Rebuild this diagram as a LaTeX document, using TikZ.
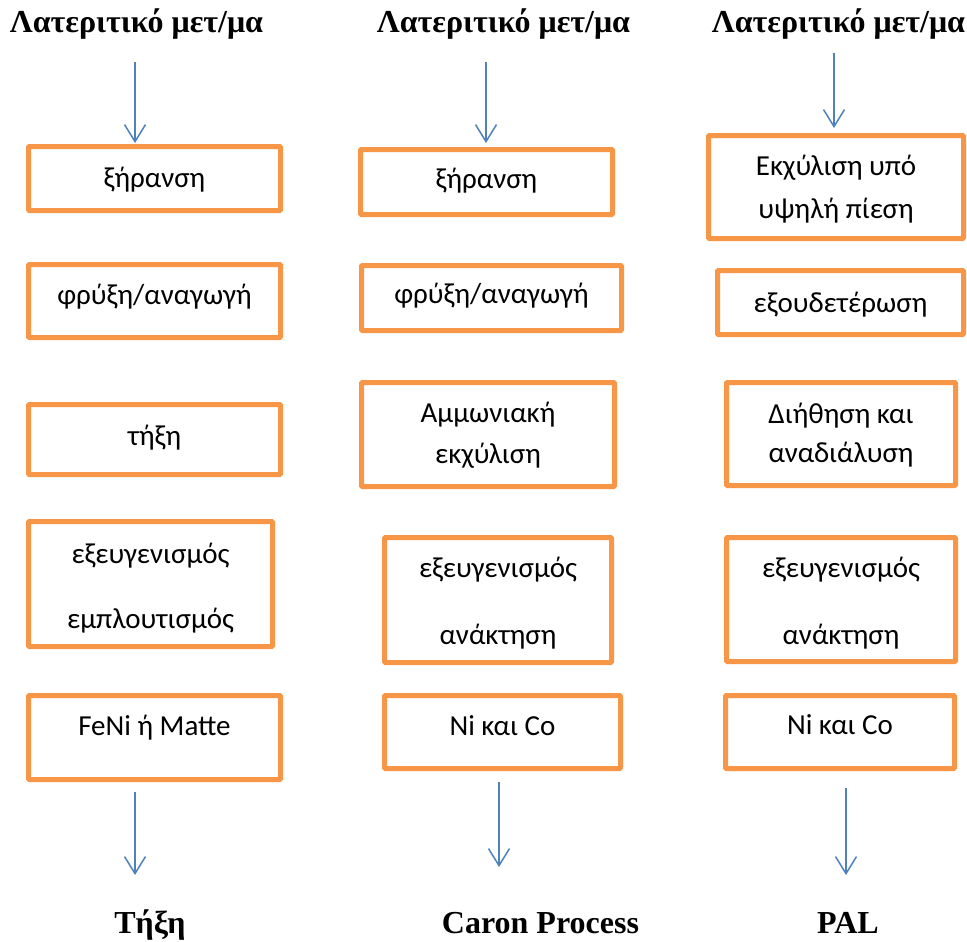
\documentclass[tikz,border=0pt]{standalone}
\usepackage{fontspec}
\setmainfont{Liberation Serif}
\newfontfamily\calfont{Carlito}
\usetikzlibrary{arrows.meta}
\definecolor{boxorange}{HTML}{F79646}
\definecolor{arrowblue}{HTML}{4F81BD}
\tikzset{
  procbox/.style={draw=boxorange, line width=5pt, rounded corners=1pt, inner sep=0pt, fill=white},
  boxtext/.style={anchor=base, inner sep=0pt, font=\calfont\fontsize{29}{35}\selectfont},
  headtext/.style={anchor=base, inner sep=0pt, font=\bfseries\fontsize{32}{38}\selectfont},
  flow/.style={draw=arrowblue, line width=1.5pt, -{Straight Barb[length=17pt,width=21pt,line width=1.5pt]}}
}
\begin{document}
\begin{tikzpicture}[x=1pt,y=-1pt]
\useasboundingbox (0,0) rectangle (967,942);
\fill[white] (0,0) rectangle (967,942);
% headers
\node[headtext] (h1) at (136.5,33) {Λατεριτικό μετ/μα};
\node[headtext] (h2) at (503.5,33) {Λατεριτικό μετ/μα};
\node[headtext] (h3) at (838.5,33) {Λατεριτικό μετ/μα};
% column 1 boxes
\node[procbox, minimum width=252pt, minimum height=64pt] (b11) at (154.5,178.5) {};
\node[procbox, minimum width=252pt, minimum height=73pt] (b12) at (154.5,301) {};
\node[procbox, minimum width=252pt, minimum height=70pt] (b13) at (154.5,439.5) {};
\node[procbox, minimum width=244pt, minimum height=125pt] (b14) at (150.5,584) {};
\node[procbox, minimum width=252pt, minimum height=84pt] (b15) at (154.5,737.5) {};
% column 2 boxes
\node[procbox, minimum width=252pt, minimum height=65pt] (b21) at (486.5,182) {};
\node[procbox, minimum width=260pt, minimum height=65pt] (b22) at (491.5,298) {};
\node[procbox, minimum width=253pt, minimum height=104pt] (b23) at (488,434.5) {};
\node[procbox, minimum width=227pt, minimum height=125pt] (b24) at (498,600) {};
\node[procbox, minimum width=236pt, minimum height=73pt] (b25) at (502.5,732) {};
% column 3 boxes
\node[procbox, minimum width=255pt, minimum height=103pt] (b31) at (836,187) {};
\node[procbox, minimum width=246pt, minimum height=64pt] (b32) at (840.5,302.5) {};
\node[procbox, minimum width=229pt, minimum height=103pt] (b33) at (841,434) {};
\node[procbox, minimum width=229pt, minimum height=124pt] (b34) at (841,599.5) {};
\node[procbox, minimum width=229pt, minimum height=73pt] (b35) at (840,732) {};
% texts column 1
\node[boxtext] (t11) at (154.5,187) {ξήρανση};
\node[boxtext] (t12) at (154.5,304) {φρύξη/αναγωγή};
\node[boxtext] (t13) at (154.5,445) {τήξη};
\node[boxtext] (t14a) at (150.5,563) {εξευγενισμός};
\node[boxtext] (t14b) at (150.5,628) {εμπλουτισμός};
\node[boxtext] (t15) at (154.5,735) {FeNi ή Matte};
% texts column 2
\node[boxtext] (t21) at (486.5,188) {ξήρανση};
\node[boxtext] (t22) at (491.5,303) {φρύξη/αναγωγή};
\node[boxtext] (t23a) at (488,422) {Αμμωνιακή};
\node[boxtext] (t23b) at (488,463) {εκχύλιση};
\node[boxtext] (t24a) at (498,577) {εξευγενισμός};
\node[boxtext] (t24b) at (498,644) {ανάκτηση};
\node[boxtext] (t25) at (502.5,735) {Ni και Co};
% texts column 3
\node[boxtext] (t31a) at (836,175) {Εκχύλιση υπό};
\node[boxtext] (t31b) at (836,218) {υψηλή πίεση};
\node[boxtext] (t32) at (840.5,312) {εξουδετέρωση};
\node[boxtext] (t33a) at (841,423) {Διήθηση και};
\node[boxtext] (t33b) at (841,462) {αναδιάλυση};
\node[boxtext] (t34a) at (841,577) {εξευγενισμός};
\node[boxtext] (t34b) at (841,644) {ανάκτηση};
\node[boxtext] (t35) at (840,734) {Ni και Co};
% bottom labels
\node[headtext] (f1) at (150,933) {Τήξη};
\node[headtext] (f2) at (540.5,933) {Caron Process};
\node[headtext] (f3) at (848,933) {PAL};
% arrow end points
\coordinate (a1s) at (135,62);  \coordinate (a1e) at (135,143);
\coordinate (a2s) at (486,62);  \coordinate (a2e) at (486,143);
\coordinate (a3s) at (834,53);  \coordinate (a3e) at (834,128);
\coordinate (c1s) at (135,792); \coordinate (c1e) at (135,875);
\coordinate (c2s) at (499,782); \coordinate (c2e) at (499,867);
\coordinate (c3s) at (846,788); \coordinate (c3e) at (846,875);
\draw[flow] (a1s) -- (a1e);
\draw[flow] (a2s) -- (a2e);
\draw[flow] (a3s) -- (a3e);
\draw[flow] (c1s) -- (c1e);
\draw[flow] (c2s) -- (c2e);
\draw[flow] (c3s) -- (c3e);
\end{tikzpicture}
\end{document}
